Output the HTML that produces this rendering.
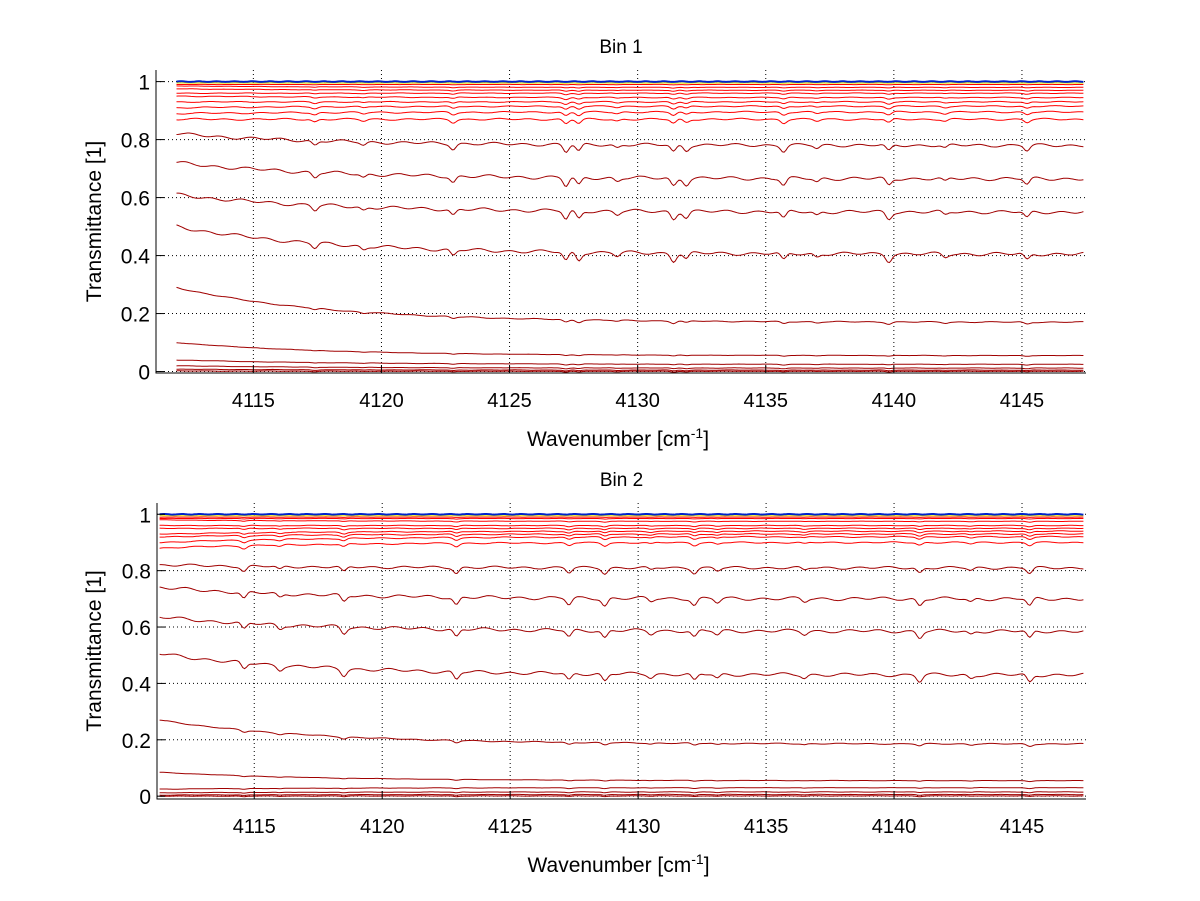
<!DOCTYPE html>
<html><head><meta charset="utf-8"><style>
html,body{margin:0;padding:0;background:#fff;}
svg{display:block;font-family:"Liberation Sans",sans-serif;}
</style></head><body>
<svg id="fig" width="1200" height="901" viewBox="0 0 1200 901"></svg>
<script>
// ---- data ----
const xTicks = [4115,4120,4125,4130,4135,4140,4145];
const yTicks = [0,0.2,0.4,0.6,0.8,1];
const yTickLabels = ["0","0.2","0.4","0.6","0.8","1"];
const bin1Start = [1.0,0.995,0.99,0.985,0.975,0.96,0.95,0.93,0.91,0.89,0.87,0.82,0.72,0.61,0.50,0.29,0.10,0.04,0.02,0.008,0.002];
const bin1End   = [1.0,0.995,0.99,0.98,0.97,0.96,0.945,0.93,0.915,0.895,0.87,0.78,0.665,0.55,0.405,0.17,0.055,0.025,0.012,0.005,0.001];
const bin1Lines = [4117.4,4119.3,4122.8,4127.2,4127.7,4129.2,4131.4,4131.9,4135.7,4137.0,4139.8,4142.0,4145.2];
const bin1Depth = [0.6,0.4,0.7,1.0,0.9,0.4,0.9,0.7,0.8,0.4,0.8,0.4,0.7];
const bin2Start = [1.0,0.995,0.99,0.985,0.98,0.96,0.95,0.93,0.92,0.90,0.88,0.82,0.74,0.635,0.505,0.27,0.085,0.025,0.012,0.004,0.0];
const bin2End   = [1.0,0.995,0.99,0.985,0.975,0.96,0.95,0.94,0.93,0.92,0.9,0.81,0.70,0.585,0.43,0.185,0.055,0.03,0.015,0.006,0.001];
const bin2Lines = [4114.6,4116.0,4118.5,4122.9,4127.3,4128.7,4130.5,4132.2,4133.1,4136.5,4141.0,4143.0,4145.3];
const bin2Depth = [0.8,0.5,0.8,0.9,0.8,0.9,0.4,0.8,0.5,0.4,0.8,0.4,0.9];

const NS='http://www.w3.org/2000/svg';
const svg=document.getElementById('fig');
function mk(tag,attrs,parent){const e=document.createElementNS(NS,tag);for(const k in attrs)e.setAttribute(k,attrs[k]);(parent||svg).appendChild(e);return e;}

function panel(cfg){
  const g=mk('g',{});
  
  
  const X=v=>cfg.x0+(v-cfg.xmin)/(cfg.xmax-cfg.xmin)*(cfg.x1-cfg.x0);
  const Y=v=>cfg.yb+(v-cfg.ymin)/(cfg.ymax-cfg.ymin)*(cfg.yt-cfg.yb);
  xTicks.forEach(t=>{const l=mk('line',{x1:X(t),x2:X(t),y1:cfg.yt,y2:cfg.yb,stroke:'#000','stroke-width':1,'stroke-dasharray':'1 3'},g);
    });
  yTicks.forEach(t=>{const l=mk('line',{x1:cfg.x0,x2:cfg.x1,y1:Y(t),y2:Y(t),stroke:'#000','stroke-width':1,'stroke-dasharray':'1 3'},g);
    });
  const n=cfg.start.length;
  for(let s=n-1;s>=0;s--){
    const a=cfg.start[s],b=cfg.end[s];
    const amp=b<0.1?0.1:(b<0.3?0.3:1);
    let pts=[];
    for(let i=0;i<=500;i++){
      const w=cfg.xs+(cfg.xmax2-cfg.xs)*i/500;
      const fr=(w-cfg.xs)/(cfg.xmax2-cfg.xs);
      let v=b+(a-b)*Math.exp(-fr*6);
      let d=0;
      cfg.lines.forEach((c,k)=>{d+=cfg.depth[k]*Math.exp(-Math.pow((w-c)/0.15,2));});
      d+=0.14*(Math.sin(w*5.3+s)+Math.sin(w*2.1+s*0.7)*0.6);
      v-=Math.min(1-b,0.25)*0.12*d*amp;
      if(s===0) v=1+0.001*Math.sin(w*9);
      pts.push(X(w).toFixed(1)+','+Y(v).toFixed(1));
    }
    let col=b>0.84?'#ff0000':'#a00000';
    if(s===0) col='#0022cc';
    if(s===1) col='#e8e800';
    const p=mk('polyline',{points:pts.join(' '),fill:'none',stroke:col,'stroke-width':s===0?2:1},g);
    
    
  }
  const ax=mk('path',{d:`M${cfg.x0},${cfg.yt} V${cfg.yb} H${cfg.x1}`,fill:'none',stroke:'#000','stroke-width':1},g);
  
  xTicks.forEach(t=>{
    mk('line',{x1:X(t),x2:X(t),y1:cfg.yb,y2:cfg.yb-8,stroke:'#000'},g);
    const tx=mk('text',{x:X(t),y:cfg.yb+34,'text-anchor':'middle','font-size':20},g);
    tx.textContent=t;
  });
  yTicks.forEach((t,k)=>{
    mk('line',{x1:cfg.x0,x2:cfg.x0+8,y1:Y(t),y2:Y(t),stroke:'#000'},g);
    const tx=mk('text',{x:cfg.x0-6,y:Y(t)+8,'text-anchor':'end','font-size':21},g);
    tx.textContent=yTickLabels[k];
  });
  const ti=mk('text',{x:(cfg.x0+cfg.x1)/2,y:cfg.yt-17,'text-anchor':'middle','font-size':19},g);
  ti.textContent=cfg.title;
  const xl=mk('text',{x:(cfg.x0+cfg.x1)/2-3,y:cfg.yb+73,'text-anchor':'middle','font-size':21},g);
  xl.innerHTML='Wavenumber [cm<tspan dy="-8" font-size="14">-1</tspan><tspan dy="8">]</tspan>';
  
  const cy=(cfg.yt+cfg.yb)/2;
  const yl=mk('text',{x:101,y:cy,'text-anchor':'middle','font-size':21,transform:`rotate(-90 101 ${cy})`},g);
  yl.textContent='Transmittance [1]';
}
panel({name:'bin-1-panel',title:'Bin 1',x0:156,x1:1086,xmin:4111.2,xmax:4147.5,yt:70,yb:373,ymin:-0.005,ymax:1.04,
  xs:4112.0,xmax2:4147.4,start:bin1Start,end:bin1End,lines:bin1Lines,depth:bin1Depth});
panel({name:'bin-2-panel',title:'Bin 2',x0:157,x1:1086,xmin:4111.2,xmax:4147.5,yt:503,yb:799,ymin:-0.01,ymax:1.04,
  xs:4111.3,xmax2:4147.4,start:bin2Start,end:bin2End,lines:bin2Lines,depth:bin2Depth});
</script>
</body></html>
